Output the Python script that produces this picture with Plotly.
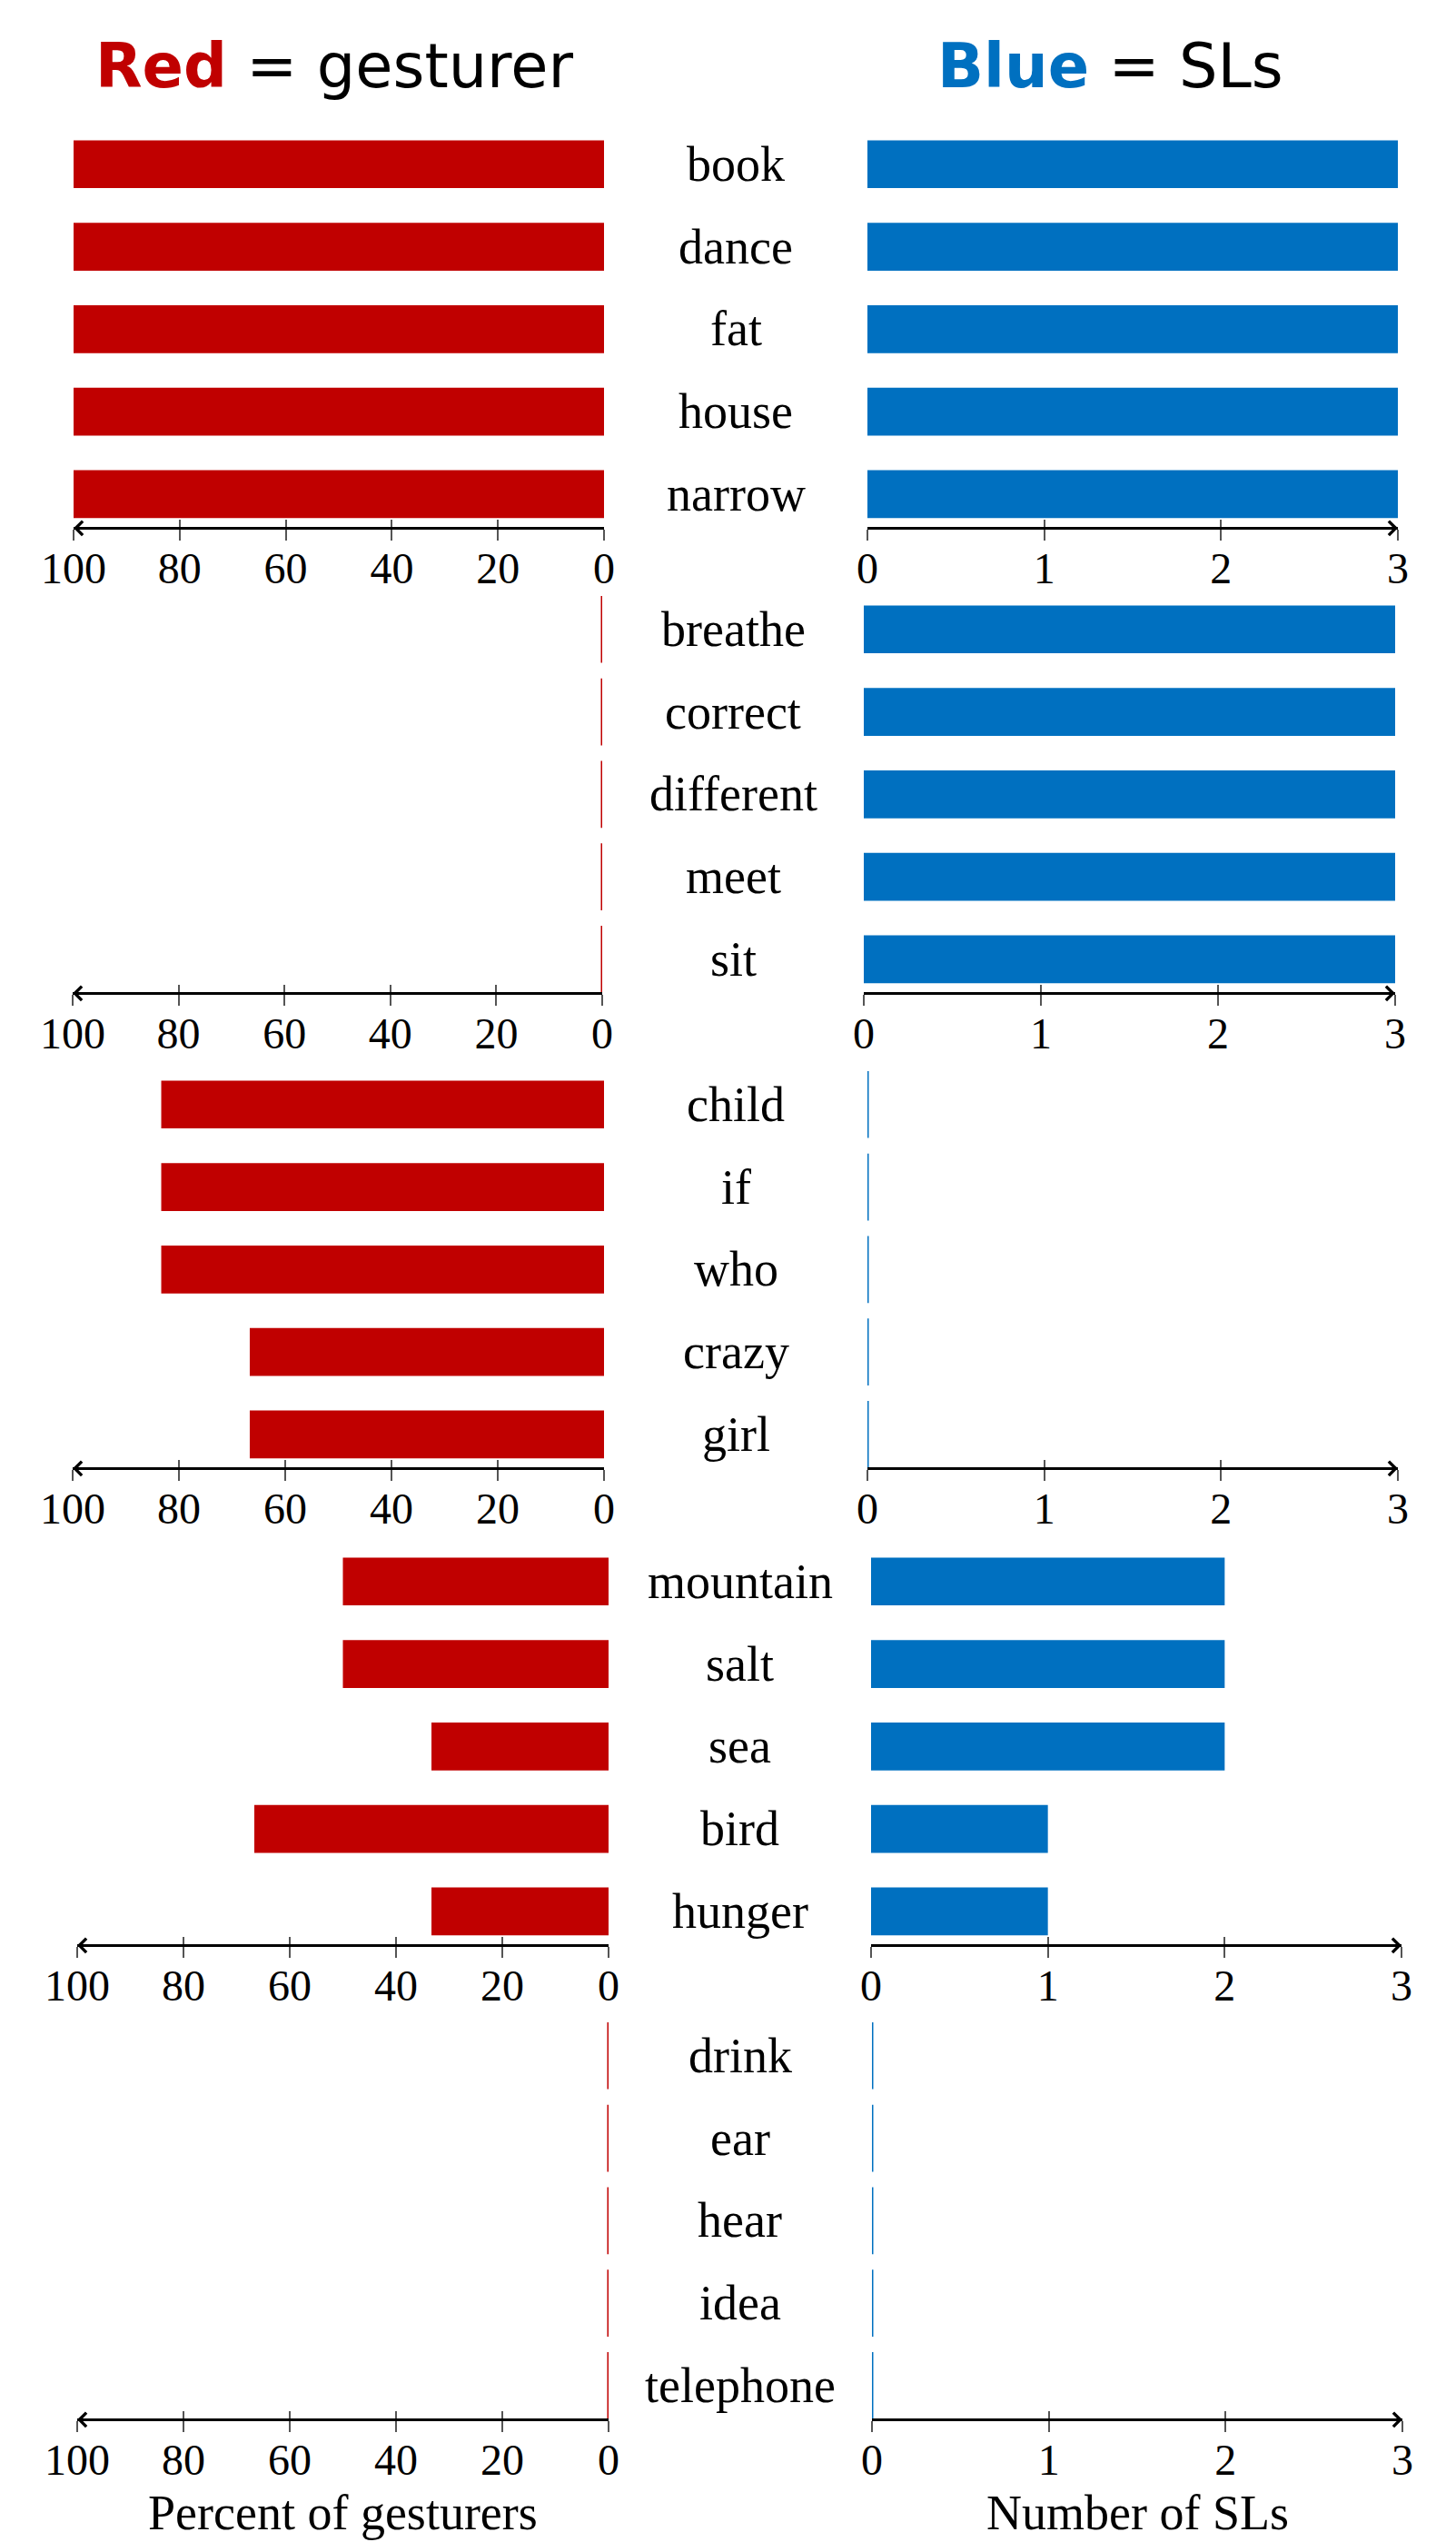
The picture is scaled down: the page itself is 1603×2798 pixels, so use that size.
import plotly.graph_objects as go

# ---------------- data ----------------
cats_1 = ["book", "dance", "fat", "house", "narrow"]
gesturer_pct_1 = [100, 100, 100, 100, 100]
sl_count_1 = [3, 3, 3, 3, 3]

cats_2 = ["breathe", "correct", "different", "meet", "sit"]
gesturer_pct_2 = [0, 0, 0, 0, 0]
sl_count_2 = [3, 3, 3, 3, 3]

cats_3 = ["child", "if", "who", "crazy", "girl"]
gesturer_pct_3 = [83.33, 83.33, 83.33, 66.67, 66.67]
sl_count_3 = [0, 0, 0, 0, 0]

cats_4 = ["mountain", "salt", "sea", "bird", "hunger"]
gesturer_pct_4 = [50, 50, 33.33, 66.67, 33.33]
sl_count_4 = [2, 2, 2, 1, 1]

cats_5 = ["drink", "ear", "hear", "idea", "telephone"]
gesturer_pct_5 = [0, 0, 0, 0, 0]
sl_count_5 = [0, 0, 0, 0, 0]

pct_ticks = [100, 80, 60, 40, 20, 0]
sl_ticks = [0, 1, 2, 3]

panel_cats = [cats_1, cats_2, cats_3, cats_4, cats_5]
panel_pct = [gesturer_pct_1, gesturer_pct_2, gesturer_pct_3, gesturer_pct_4, gesturer_pct_5]
panel_sl = [sl_count_1, sl_count_2, sl_count_3, sl_count_4, sl_count_5]

# ---------------- style / geometry ----------------
W, H = 1603, 2798
RED = "#C00000"
BLUE = "#0070C0"
SERIF = "Liberation Serif"
SANS = "DejaVu Sans"

axis_px = [580, 1092, 1615, 2140, 2662]
left_px = [(81, 665), (80, 663), (80, 665), (85, 670), (85, 670)]
right_px = [(955, 1539), (951, 1536), (955, 1539), (959, 1543), (960, 1544)]
SPACING = 90.8
Y_BOTTOM, Y_TOP = 4.397, -0.55
panel_h = (Y_BOTTOM - Y_TOP) * SPACING
BAR_W = 0.58
BAR_PX = BAR_W * SPACING
AXIS_LW = 2.7


def xname(k):
    return "x" if k == 1 else f"x{k}"


def yname(k):
    return "y" if k == 1 else f"y{k}"


def xkey(k):
    return "xaxis" if k == 1 else f"xaxis{k}"


def ykey(k):
    return "yaxis" if k == 1 else f"yaxis{k}"


fig = go.Figure()
layout = {}
annotations = []

for p in range(5):
    cats = panel_cats[p]
    ydom = [1 - axis_px[p] / H, 1 - (axis_px[p] - panel_h) / H]
    sides = [
        (2 * p + 1, panel_pct[p], RED, [100, 0], pct_ticks, left_px[p], 16),
        (2 * p + 2, panel_sl[p], BLUE, [0, 3], sl_ticks, right_px[p], -16),
    ]
    for k, vals, col, rng, tv, px, arrow_dx in sides:
        xd = [px[0] / W, px[1] / W]
        layout[xkey(k)] = dict(
            domain=xd, anchor=yname(k), range=rng, tickvals=tv,
            ticktext=[str(t) for t in tv],
            showline=True, linecolor="black", linewidth=AXIS_LW,
            ticks="outside", ticklen=12, tickwidth=1.5, tickcolor="#555555",
            tickfont=dict(family=SERIF, size=48, color="black"),
            ticklabelstandoff=-10,
            showgrid=False, zeroline=False, automargin=False, fixedrange=True,
        )
        layout[ykey(k)] = dict(
            domain=ydom, anchor=xname(k), type="category",
            categoryorder="array", categoryarray=cats,
            range=[Y_BOTTOM, Y_TOP], visible=False, showgrid=False,
            zeroline=False, automargin=False, fixedrange=True,
        )
        # overlay axis: upper half of the crossing tick marks
        layout[xkey(k + 10)] = dict(
            overlaying=xname(k), anchor=yname(k), range=rng, tickvals=tv,
            ticks="inside", ticklen=8, tickwidth=1.5, tickcolor="#555555",
            showticklabels=False, showline=False, showgrid=False,
            zeroline=False, automargin=False, fixedrange=True,
        )
        fig.add_trace(go.Bar(
            x=vals, y=cats, orientation="h", width=BAR_W,
            marker=dict(color=col, line=dict(width=0)),
            xaxis=xname(k), yaxis=yname(k), showlegend=False, hoverinfo="skip",
        ))
        zx = [v for v in vals if v == 0]
        zy = [c for v, c in zip(vals, cats) if v == 0]
        if zx:
            fig.add_trace(go.Scatter(
                x=zx, y=zy, mode="markers",
                marker=dict(symbol="line-ns", size=BAR_PX, color=col,
                            line=dict(color=col, width=3)),
                xaxis=xname(k), yaxis=yname(k), showlegend=False, hoverinfo="skip",
            ))
        fig.add_trace(go.Scatter(
            x=[rng[0]], y=[cats[0]], mode="markers", marker=dict(opacity=0),
            xaxis=xname(k + 10), yaxis=yname(k), showlegend=False, hoverinfo="skip",
        ))
        # arrow head at the far end of the axis line
        annotations.append(dict(
            x=rng[0] if k % 2 == 1 else rng[1], y=-(AXIS_LW / 2) / panel_h,
            xref=xname(k), yref=f"{yname(k)} domain",
            ax=arrow_dx, ay=0, axref="pixel", ayref="pixel",
            showarrow=True, arrowhead=4, arrowsize=1.1, arrowwidth=AXIS_LW,
            arrowcolor="black", text="", standoff=0,
        ))
    # category labels in the middle
    cx = (left_px[p][1] + right_px[p][0]) / 2 / W
    for c in cats:
        annotations.append(dict(
            x=cx, xref="paper", y=c, yref=yname(2 * p + 2), text=c,
            showarrow=False, xanchor="center", yanchor="middle",
            font=dict(family=SERIF, size=54, color="black"),
        ))

# headings
annotations.append(dict(
    x=368 / W, y=1 - 73 / H, xref="paper", yref="paper",
    text=f'<b><span style="color:{RED}">Red</span></b> = gesturer',
    showarrow=False, xanchor="center", yanchor="middle",
    font=dict(family=SANS, size=67, color="black"),
))
annotations.append(dict(
    x=1222 / W, y=1 - 73 / H, xref="paper", yref="paper",
    text=f'<b><span style="color:{BLUE}">Blue</span></b> = SLs',
    showarrow=False, xanchor="center", yanchor="middle",
    font=dict(family=SANS, size=67, color="black"),
))
# axis titles
annotations.append(dict(
    x=(left_px[4][0] + left_px[4][1]) / 2 / W, y=0,
    xref="paper", yref="paper", text="Percent of gesturers",
    showarrow=False, xanchor="center", yanchor="bottom",
    font=dict(family=SERIF, size=54, color="black"),
))
annotations.append(dict(
    x=(right_px[4][0] + right_px[4][1]) / 2 / W, y=0,
    xref="paper", yref="paper", text="Number of SLs",
    showarrow=False, xanchor="center", yanchor="bottom",
    font=dict(family=SERIF, size=54, color="black"),
))

fig.update_layout(
    width=W, height=H, template="none",
    margin=dict(l=0, r=0, t=0, b=0, pad=0),
    paper_bgcolor="white", plot_bgcolor="white",
    showlegend=False, annotations=annotations, **layout,
)

fig.write_html("out.html", config={"displayModeBar": False},
               post_script="document.body.style.margin='0';")
